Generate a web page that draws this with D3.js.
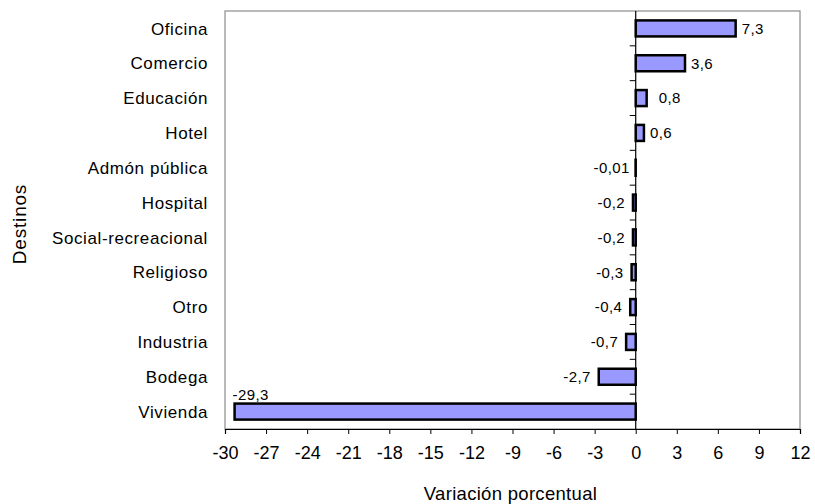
<!DOCTYPE html>
<html>
<head>
<meta charset="utf-8">
<script src="https://cdn.jsdelivr.net/npm/d3@7"></script>
<style>
body { margin: 0; background: #fff; }
text { font-family: "Liberation Sans", Arial, sans-serif; fill: #000; }
</style>
</head>
<body>
<svg width="815" height="504"></svg>
<script>
var destinos = ["Oficina", "Comercio", "Educación", "Hotel", "Admón pública", "Hospital",
  "Social-recreacional", "Religioso", "Otro", "Industria", "Bodega", "Vivienda"];
var variacion = [7.3, 3.6, 0.8, 0.6, -0.01, -0.2, -0.2, -0.3, -0.4, -0.7, -2.7, -29.3];
var etiquetas = ["7,3", "3,6", "0,8", "0,6", "-0,01", "-0,2", "-0,2", "-0,3", "-0,4", "-0,7", "-2,7", "-29,3"];
var ticksX = d3.range(-30, 13, 3);

var data = destinos.map(function(d, i) {
  return {name: d, value: variacion[i], label: etiquetas[i]};
});

var svg = d3.select("svg"),
  margin = {top: 11, right: 15, bottom: 75, left: 225},
  width = +svg.attr("width") - margin.left - margin.right,
  height = +svg.attr("height") - margin.top - margin.bottom;

var g = svg.append("g").attr("transform", "translate(" + margin.left + "," + margin.top + ")");

var x = d3.scaleLinear().domain([-30, 12]).range([0, width]);
var y = d3.scaleBand().domain(destinos).range([0, height]).paddingInner(0.54).paddingOuter(0.27);

// frame
g.append("rect")
  .attr("width", width).attr("height", height)
  .attr("fill", "none").attr("stroke", "#8c8c8c").attr("stroke-width", 1.2);

// bars
g.selectAll(".bar")
  .data(data)
  .enter().append("rect")
  .attr("class", "bar")
  .attr("x", function(d) { return x(Math.min(0, d.value)); })
  .attr("y", function(d) { return y(d.name); })
  .attr("width", function(d) { return Math.abs(x(d.value) - x(0)); })
  .attr("height", y.bandwidth())
  .attr("fill", "#9999ff")
  .attr("stroke", "#000")
  .attr("stroke-width", 2.5);

// zero axis with category ticks
g.append("line")
  .attr("x1", x(0)).attr("x2", x(0))
  .attr("y1", 0).attr("y2", height)
  .attr("stroke", "#000").attr("stroke-width", 1.2);

var step = y.step();
g.selectAll(".ytick")
  .data(d3.range(1, destinos.length))
  .enter().append("line")
  .attr("x1", x(0) - 6).attr("x2", x(0))
  .attr("y1", function(i) { return i * step; })
  .attr("y2", function(i) { return i * step; })
  .attr("stroke", "#000");

// category labels
g.selectAll(".cat")
  .data(destinos)
  .enter().append("text")
  .attr("x", -17)
  .attr("y", function(d) { return y(d) + y.bandwidth() / 2; })
  .attr("dy", "0.36em")
  .attr("text-anchor", "end")
  .style("font-size", "17px")
  .style("letter-spacing", "0.6px")
  .text(function(d) { return d; });

// value labels
g.selectAll(".val")
  .data(data)
  .enter().append("text")
  .attr("x", function(d) {
    if (d.value < -20) return x(d.value) - 2;
    if (d.value >= 0) return x(d.value) + (d.name === "Educación" ? 12 : 6);
    if (d.value > -0.1) return x(0) - 6;
    return x(d.value) - 8;
  })
  .attr("y", function(d) {
    return d.value < -20 ? y(d.name) - 9 : y(d.name) + y.bandwidth() / 2;
  })
  .attr("dy", "0.36em")
  .attr("text-anchor", function(d) { return d.value >= 0 || d.value < -20 ? "start" : "end"; })
  .style("font-size", "15px")
  .style("letter-spacing", "0.4px")
  .text(function(d) { return d.label; });

// x axis
var xAxis = g.append("g")
  .attr("transform", "translate(0," + height + ")")
  .call(d3.axisBottom(x).tickValues(ticksX).tickSize(5).tickPadding(12)
    .tickFormat(function(d) { return d; }));
xAxis.select(".domain").attr("stroke", "#000").attr("stroke-width", 1.2);
xAxis.selectAll("text")
  .style("font-family", "'Liberation Sans', Arial, sans-serif")
  .style("font-size", "18px").attr("fill", "#000");

// axis titles
svg.append("text")
  .attr("x", margin.left + x(-9) - 2)
  .attr("y", 500)
  .attr("text-anchor", "middle")
  .style("font-size", "18.5px")
  .style("letter-spacing", "0.3px")
  .text("Variación porcentual");

svg.append("text")
  .attr("transform", "translate(26," + 224 + ") rotate(-90)")
  .attr("text-anchor", "middle")
  .style("font-size", "19px")
  .style("letter-spacing", "0.8px")
  .text("Destinos");
</script>
</body>
</html>
